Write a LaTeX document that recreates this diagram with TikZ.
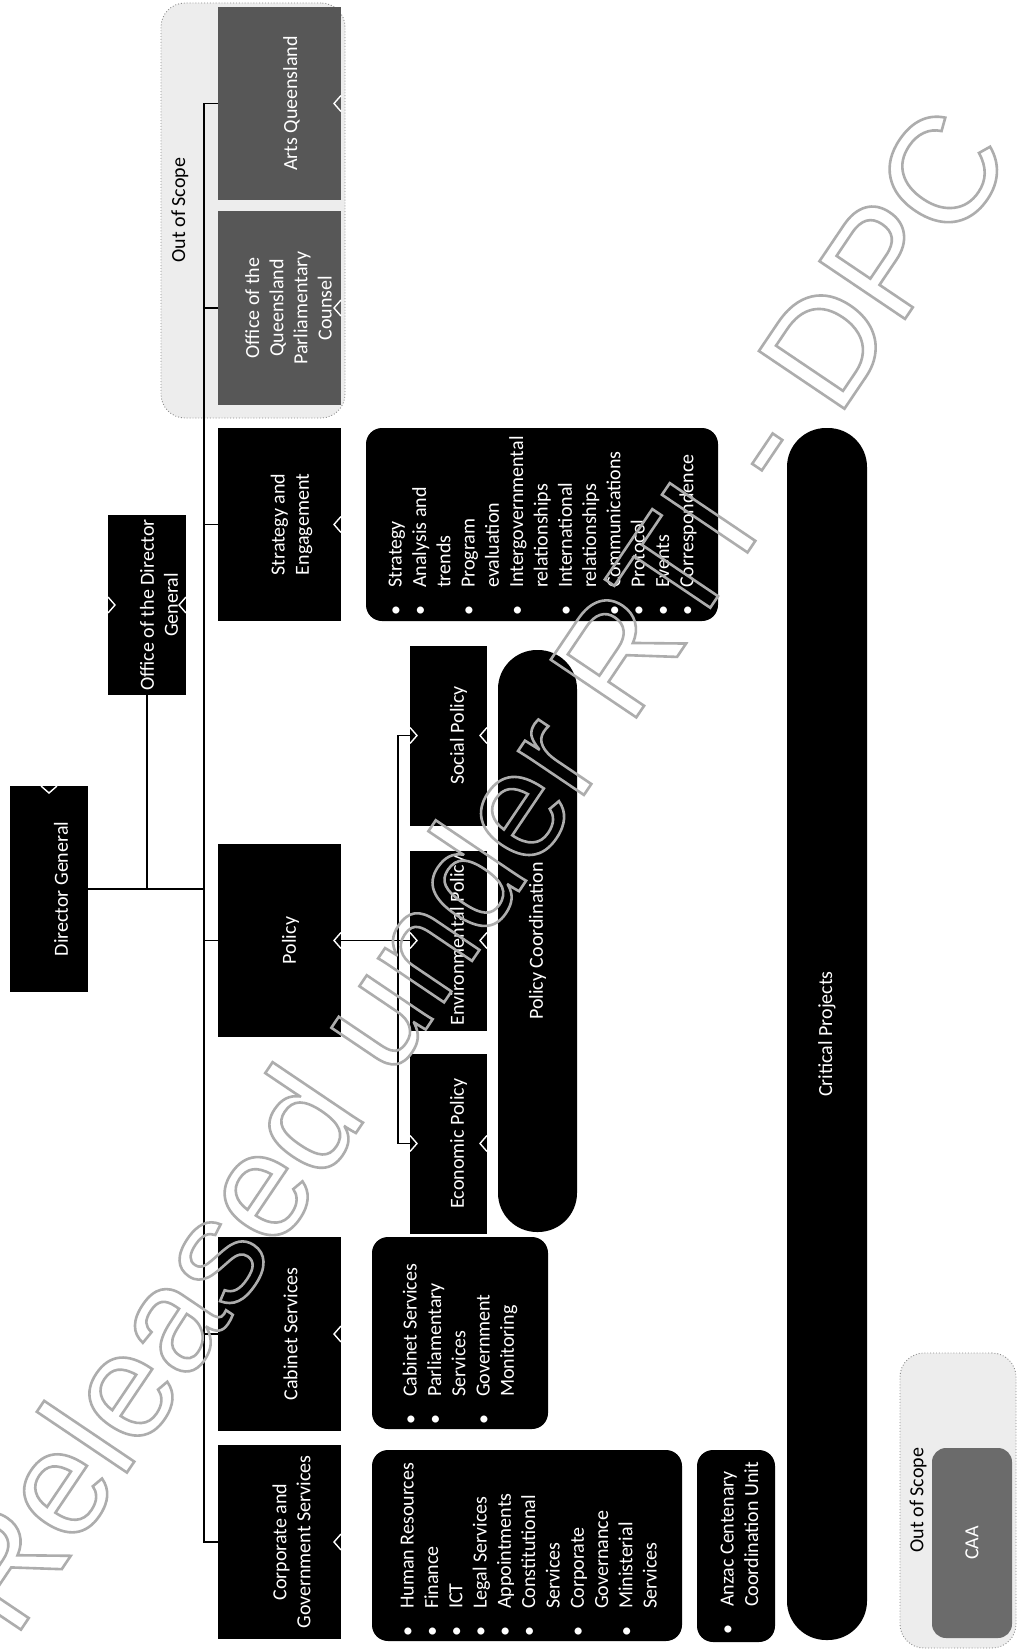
\documentclass[tikz,border=0pt]{standalone}
\usepackage{fontspec}
\setmainfont{Carlito}
\newfontfamily\wmfont{Liberation Sans}
\newcommand\bl{\makebox[28pt][l]{\textbullet}}
\newcommand\ind{\hspace*{28pt}}
\newcommand\outl[1]{\special{pdf:literal direct 1 Tr 2.6 w}#1\special{pdf:literal direct 0 Tr}}
\newcommand\chevR[1]{\draw[chev] ([yshift=8pt]#1) -- ([xshift=-7pt]#1) -- ([yshift=-8pt]#1);}
\newcommand\chevLf[1]{\draw[chev] ([yshift=8pt]#1) -- ([xshift=7pt]#1) -- ([yshift=-8pt]#1);}
\newcommand\chevT[1]{\draw[chev] ([xshift=-8pt]#1) -- ([yshift=-7pt]#1) -- ([xshift=8pt]#1);}
\tikzset{
 box/.style={fill=black, inner sep=0pt, outer sep=0pt},
 gbox/.style={fill=black!66, inner sep=0pt, outer sep=0pt},
 lbl/.style={rotate=90, text=white, align=center, inner sep=0pt, font=\fontsize{20}{24.2}\selectfont},
 dlbl/.style={rotate=90, text=black, align=center, inner sep=0pt, font=\fontsize{20}{24.2}\selectfont},
 listbox/.style={fill=black, rounded corners=16pt, inner sep=0pt, outer sep=0pt},
 listtxt/.style={rotate=90, anchor=north west, text=white, align=left, inner sep=0pt, font=\fontsize{20}{24.3}\selectfont},
 bar/.style={fill=black, rounded corners=39pt, inner sep=0pt, outer sep=0pt},
 scopebox/.style={fill=black!7, draw=black!45, dotted, line width=0.9pt, rounded corners=24pt, inner sep=0pt},
 conn/.style={line width=1.3pt, black},
 chev/.style={white, line width=1.4pt},
}
\begin{document}
\begin{tikzpicture}[x=1pt,y=-1pt]
\useasboundingbox[fill=white] (0,0) rectangle (1018,1651);
% out of scope containers
\node[scopebox, minimum width=184pt, minimum height=415pt] (oosA) at (253,210.5) {};
\node[scopebox, minimum width=116pt, minimum height=295pt] (oosB) at (958,1500.5) {};
% top level boxes
\node[box, minimum width=78pt, minimum height=206pt] (dg) at (49,889) {};
\node[box, minimum width=78pt, minimum height=180pt] (odg) at (147,605) {};
\node[gbox, minimum width=123pt, minimum height=193pt] (arts) at (279.5,103.5) {};
\node[gbox, minimum width=123pt, minimum height=194pt] (oqpc) at (279.5,308) {};
\node[box, minimum width=123pt, minimum height=193pt] (se) at (279.5,524.5) {};
\node[box, minimum width=123pt, minimum height=193pt] (pol) at (279.5,940.5) {};
\node[box, minimum width=123pt, minimum height=194pt] (cab) at (279.5,1334) {};
\node[box, minimum width=123pt, minimum height=194pt] (corp) at (279.5,1542) {};
% policy sub boxes
\node[box, minimum width=77pt, minimum height=180pt] (soc) at (448.5,735.5) {};
\node[box, minimum width=77pt, minimum height=180pt] (env) at (448.5,940.5) {};
\node[box, minimum width=77pt, minimum height=180pt] (eco) at (448.5,1143.5) {};
% bars
\node[bar, minimum width=79pt, minimum height=582pt] (pc) at (537.5,941) {};
\node[bar, minimum width=80pt, minimum height=1212pt] (cp) at (827,1034) {};
% list boxes
\node[listbox, minimum width=352pt, minimum height=193pt] (sel) at (542,524.5) {};
\node[listbox, minimum width=176pt, minimum height=192pt] (cabl) at (460,1333) {};
\node[listbox, minimum width=310pt, minimum height=191pt] (corpl) at (527,1545.5) {};
\node[listbox, minimum width=78pt, minimum height=192pt] (anz) at (736,1546) {};
% CAA
\node[fill=black!58, rounded corners=14pt, minimum width=80pt, minimum height=190pt, inner sep=0pt] (caa) at (972,1543) {};
% connectors
\coordinate (bus) at (204,0);
\coordinate (sbus) at (398,0);
\draw[conn] (arts.west) -- (arts.west -| bus) -- (corp.west -| bus) -- (corp.west);
\foreach \n in {oqpc,se,pol,cab} \draw[conn] (\n.west) -- (\n.west -| bus);
\draw[conn] (dg.east) -- (dg.east -| bus);
\draw[conn] (odg.south) -- (odg.south |- dg.east);
\draw[conn] (pol.east) -- (env.west);
\draw[conn] (soc.west) -- (soc.west -| sbus) -- (eco.west -| sbus) -- (eco.west);
% chevrons
\foreach \n in {arts,oqpc,se,pol,cab,corp,odg,soc,env,eco} {\chevR{\n.east}}
\foreach \n in {odg,soc,env,eco} {\chevLf{\n.west}}
\chevT{dg.north}
% labels
\node[lbl] (dgT) at ([xshift=12pt]dg.center) {Director General};
\node[lbl] (odgT) at ([xshift=12pt]odg.center) {Office of the Director\\General};
\node[lbl] (artsT) at ([xshift=12pt]arts.center) {Arts Queensland};
\node[lbl] (oqpcT) at ([xshift=9pt]oqpc.center) {Office of the\\Queensland\\Parliamentary\\Counsel};
\node[lbl] (seT) at ([xshift=12pt]se.center) {Strategy and\\Engagement};
\node[lbl] (polT) at ([xshift=11pt]pol.center) {Policy};
\node[lbl] (cabT) at ([xshift=11pt]cab.center) {Cabinet Services};
\node[lbl] (corpT) at ([xshift=12pt]corp.center) {Corporate and\\Government Services};
\node[lbl] (socT) at ([xshift=10pt]soc.center) {Social Policy};
\node[lbl] (envT) at ([xshift=10pt]env.center) {Environmental Policy};
\node[lbl] (ecoT) at ([xshift=10pt]eco.center) {Economic Policy};
\node[lbl] (pcT) at (pc.center) {Policy Coordination};
\node[lbl] (cpT) at (cp.center) {Critical Projects};
\node[lbl] (caaT) at (caa.center) {CAA};
\node[dlbl] (oosAT) at (180,210) {Out of Scope};
\node[dlbl] (oosBT) at (918,1500) {Out of Scope};
% lists
\node[listtxt] (selT) at (384.5,616) {\strut\bl Strategy\\\bl Analysis and\\\ind trends\\\bl Program\\\ind evaluation\\\bl Intergovernmental\\\ind relationships\\\bl International\\\ind relationships\\\bl Communications\\\bl Protocol\\\bl Events\\\bl Correspondence};
\node[listtxt] (cablT) at (399.5,1425) {\strut\bl Cabinet Services\\\bl Parliamentary\\\ind Services\\\bl Government\\\ind Monitoring};
\node[listtxt] (corplT) at (396.5,1637) {\strut\bl Human Resources\\\bl Finance\\\bl ICT\\\bl Legal Services\\\bl Appointments\\\bl Constitutional\\\ind Services\\\bl Corporate\\\ind Governance\\\bl Ministerial\\\ind Services};
\node[listtxt] (anzT) at (716.5,1635) {\strut\bl Anzac Centenary\\\ind Coordination Unit};
% watermark
\node[rotate=56, inner sep=0pt, text=black!32, font=\wmfont\fontsize{150}{152}\selectfont] (wm) at (470,868) {\outl{Released under RTI - DPC}};
\end{tikzpicture}
\end{document}
